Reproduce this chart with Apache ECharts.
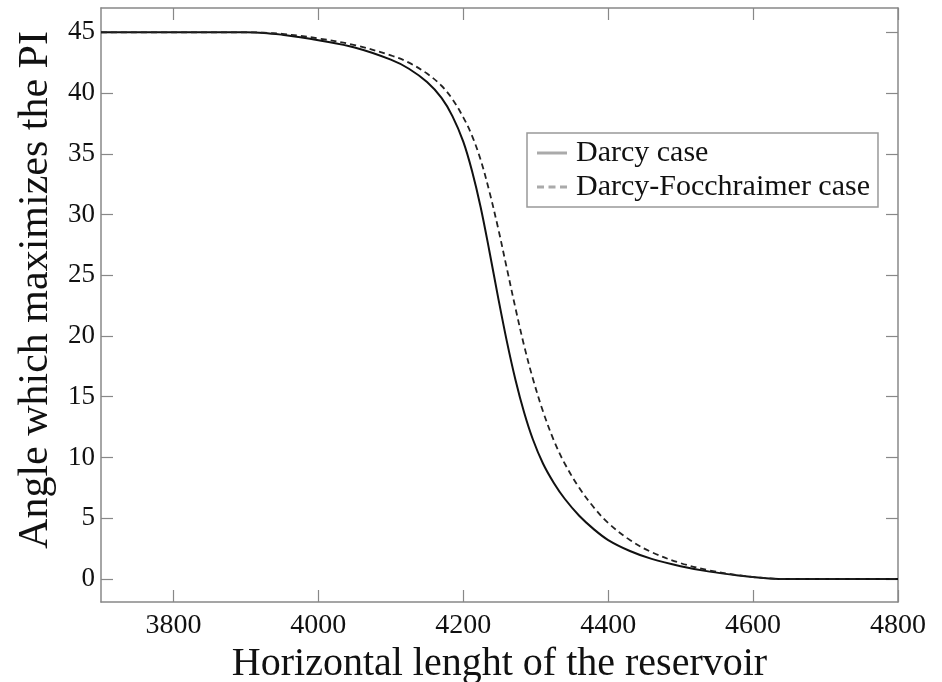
<!DOCTYPE html>
<html>
<head>
<meta charset="utf-8">
<script src="https://cdn.jsdelivr.net/npm/echarts@6/dist/echarts.min.js"></script>
<style>
  html, body { margin: 0; padding: 0; background: #fff; }
  #myChart { width: 942px; height: 682px; }
</style>
</head>
<body>
<div id="myChart"></div>
<script>
// 横向长度（x）
var lengths = [3700, 3800, 3900, 3925, 3950, 3975, 4000, 4050, 4100, 4125, 4150, 4170, 4185, 4200,
  4212, 4224, 4236, 4248, 4260, 4272, 4284, 4296, 4310, 4325, 4340, 4360, 4380, 4400,
  4430, 4460, 4500, 4540, 4580, 4610, 4640, 4700, 4800];
// Darcy case
var darcy = [45, 45, 45, 44.95, 44.8, 44.6, 44.35, 43.75, 42.75, 42.0, 40.9, 39.6, 38.1, 36.0,
  33.6, 30.6, 27.0, 23.2, 19.6, 16.4, 13.7, 11.5, 9.5, 7.9, 6.6, 5.2, 4.1, 3.2,
  2.3, 1.65, 1.05, 0.6, 0.28, 0.1, 0, 0, 0];
// Darcy-Focchraimer case
var forchheimer = [45, 45, 45, 44.97, 44.87, 44.7, 44.5, 43.95, 43.1, 42.5, 41.6, 40.6, 39.5, 38.0,
  36.5, 34.5, 31.9, 28.9, 25.6, 22.3, 19.2, 16.5, 13.8, 11.4, 9.5, 7.5, 5.9, 4.6,
  3.2, 2.2, 1.3, 0.7, 0.3, 0.1, 0, 0, 0];
// 刻度
var xTicks = [3800, 4000, 4200, 4400, 4600, 4800];
var yTicks = [0, 5, 10, 15, 20, 25, 30, 35, 40, 45];

function pairs(xs, ys) {
  return xs.map(function (x, i) { return [x, ys[i]]; });
}

var font = "'Liberation Serif', 'DejaVu Serif', serif";
var frame = { show: true, onZero: false, lineStyle: { color: "#888", width: 1.5 } };
var tickStyle = { color: "#888", width: 1.2 };
// 图例图标（实线 / 虚线）
var solidIcon = "path://M0,0L30,0L30,3L0,3Z";
var dashIcon = "path://M0,0L7,0L7,3L0,3Z M11.5,0L18.5,0L18.5,3L11.5,3Z M23,0L30,0L30,3L23,3Z";

var myChart = echarts.init(document.getElementById("myChart"));
myChart.setOption({
  animation: false,
  backgroundColor: "#fff",
  textStyle: { fontFamily: font, color: "#111" },
  grid: { left: 101, right: 44, top: 8, bottom: 80, outerBoundsMode: "none", containLabel: false },
  legend: {
    left: 527,
    top: 133,
    orient: "vertical",
    itemWidth: 30,
    itemHeight: 3,
    itemGap: 4,
    padding: [5, 8, 5, 10],
    borderColor: "#999",
    borderWidth: 1.5,
    backgroundColor: "#fff",
    textStyle: { fontFamily: font, fontSize: 30, color: "#111", padding: [0, 0, 0, 4] },
    data: [
      { name: "Darcy case", icon: solidIcon, itemStyle: { color: "#aaa" } },
      { name: "Darcy-Focchraimer case", icon: dashIcon, itemStyle: { color: "#aaa" } }
    ]
  },
  xAxis: [
    {
      type: "value",
      min: 3700,
      max: 4800,
      name: "Horizontal lenght of the reservoir",
      nameLocation: "middle",
      nameGap: 33,
      nameTextStyle: { fontFamily: font, fontSize: 40, color: "#111" },
      axisLine: frame,
      axisTick: { show: true, inside: true, length: 12, customValues: xTicks, lineStyle: tickStyle },
      axisLabel: {
        customValues: xTicks, fontSize: 28, margin: 10, color: "#111", fontFamily: font,
        formatter: function (v) { return String(v); }
      },
      splitLine: { show: false }
    },
    {
      type: "value",
      position: "top",
      min: 3700,
      max: 4800,
      axisLine: frame,
      axisTick: { show: true, inside: true, length: 12, customValues: xTicks, lineStyle: tickStyle },
      axisLabel: { show: false },
      splitLine: { show: false }
    }
  ],
  yAxis: [
    {
      type: "value",
      min: -1.9,
      max: 47,
      name: "Angle which maximizes the PI",
      nameLocation: "middle",
      nameGap: 44,
      nameTextStyle: { fontFamily: font, fontSize: 42, color: "#111", padding: [0, 0, 0, 30] },
      axisLine: frame,
      axisTick: { show: true, inside: true, length: 12, customValues: yTicks, lineStyle: tickStyle },
      axisLabel: {
        customValues: yTicks, fontSize: 27, margin: 6, color: "#111", fontFamily: font,
        formatter: function (v) { return String(v); }
      },
      splitLine: { show: false }
    },
    {
      type: "value",
      position: "right",
      min: -1.9,
      max: 47,
      axisLine: frame,
      axisTick: { show: true, inside: true, length: 12, customValues: yTicks, lineStyle: tickStyle },
      axisLabel: { show: false },
      splitLine: { show: false }
    }
  ],
  series: [
    {
      name: "Darcy case",
      type: "line",
      data: pairs(lengths, darcy),
      symbol: "none",
      smooth: 0.35,
      lineStyle: { color: "#111", width: 2, type: "solid" },
      itemStyle: { color: "#111" }
    },
    {
      name: "Darcy-Focchraimer case",
      type: "line",
      data: pairs(lengths, forchheimer),
      symbol: "none",
      smooth: 0.35,
      lineStyle: { color: "#222", width: 1.8, type: [6, 4] },
      itemStyle: { color: "#222" }
    }
  ]
});
</script>
</body>
</html>
